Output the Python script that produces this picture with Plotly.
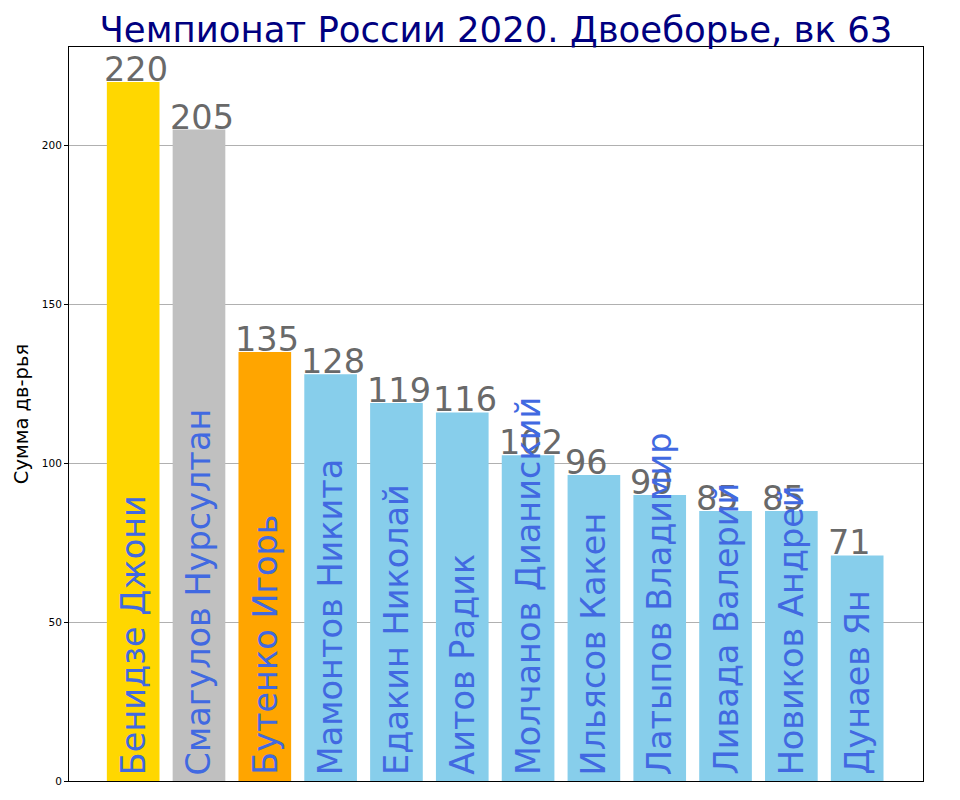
import plotly.graph_objects as go

names = ["Бенидзе Джони", "Смагулов Нурсултан", "Бутенко Игорь", "Мамонтов Никита",
         "Едакин Николай", "Аитов Радик", "Молчанов Дианиский", "Ильясов Какен",
         "Латыпов Владимир", "Ливада Валерий", "Новиков Андрей", "Дунаев Ян"]
totals = [220, 205, 135, 128, 119, 116, 102.5, 96.3, 90, 85, 85, 71]
colors = ["#FFD700", "#C0C0C0", "#FFA500"] + ["#87CEEB"] * 9

x = list(range(len(names)))
fnt = "DejaVu Sans"

fig = go.Figure(go.Bar(x=x, y=totals, marker_color=colors, marker_line_width=0,
                       width=0.8, hoverinfo="skip"))

for i, (n, v) in enumerate(zip(names, totals)):
    # value over the bar, left edge aligned with bar
    fig.add_annotation(x=i - 0.4, y=v, text=str(int(v)), showarrow=False,
                       xanchor="left", yanchor="bottom", yshift=-9, xshift=-5,
                       font=dict(family=fnt, size=33.5, color="#696969"))
    # name written upward inside the bar
    fig.add_annotation(x=i, y=0, text=n, showarrow=False, textangle=-90,
                       xanchor="center", yanchor="bottom", yshift=4,
                       font=dict(family=fnt, size=33.5, color="#4169E1"))

# page body has an 8px margin, so margins are shifted to keep the axes in place
fig.update_layout(
    width=960, height=800,
    margin=dict(l=57, r=45, t=39, b=27),
    paper_bgcolor="white", plot_bgcolor="white",
    showlegend=False,
    font=dict(family=fnt, color="black"),
    title=dict(text="Чемпионат России 2020. Двоеборье, вк 63", xref="paper", x=0.5,
               xanchor="center", y=0.973, yanchor="middle",
               font=dict(family=fnt, size=35.5, color="#000080")),
)
fig.update_xaxes(range=[-0.975, 12.0], showticklabels=False, ticks="", showgrid=False,
                 showline=True, linecolor="black", linewidth=1, mirror=True, zeroline=False)
fig.update_yaxes(range=[0, 231], tickvals=[0, 50, 100, 150, 200], ticks="outside",
                 ticklen=4, tickcolor="black", tickfont=dict(size=10.5, family=fnt),
                 showgrid=True, gridcolor="#b0b0b0", gridwidth=1, zeroline=False,
                 showline=True, linecolor="black", linewidth=1, mirror=True,
                 title=dict(text="Сумма дв-рья", font=dict(size=19.5, family=fnt), standoff=8))

fig.write_html("out.html")
